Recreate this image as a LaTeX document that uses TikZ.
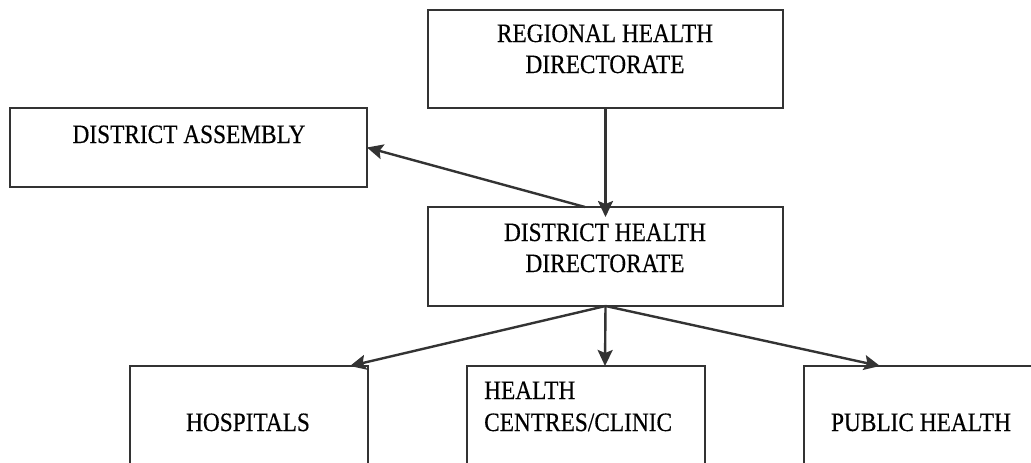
\documentclass[tikz,border=0pt]{standalone}
\usepackage{fontspec}
\setmainfont{Liberation Serif}[FakeStretch=0.88,FakeBold=0.35]
\usetikzlibrary{arrows.meta}
\definecolor{ln}{HTML}{333333}
\tikzset{
  x=1pt, y=-1pt,
  box/.style={draw=ln, line width=1.2pt, anchor=north west, inner sep=0pt, outer sep=0pt},
  lbl/.style={anchor=base, inner sep=0pt, font=\fontsize{26.5}{26.5}\selectfont, text=black},
  lbll/.style={anchor=base west, inner sep=0pt, font=\fontsize{26.5}{26.5}\selectfont, text=black},
  conn/.style={draw=ln, line width=2.4pt, -{Stealth[length=16pt,width=15pt,inset=3pt]}}
}
\begin{document}
\begin{tikzpicture}
\useasboundingbox (0,0) rectangle (1031,463);
\clip (0,0) rectangle (1031,463);
% boxes
\node[box, minimum width=355pt, minimum height=98pt] (reg) at (428,10) {};
\node[box, minimum width=357pt, minimum height=79pt] (da) at (10,108) {};
\node[box, minimum width=355pt, minimum height=99pt] (dhd) at (428,207) {};
\node[box, minimum width=238pt, minimum height=110pt] (hosp) at (130,366) {};
\node[box, minimum width=238pt, minimum height=110pt] (hc) at (467,366) {};
\node[box, minimum width=240pt, minimum height=110pt] (pub) at (804,366) {};
% labels
\node[lbl] (regt1) at (605,42) {REGIONAL HEALTH};
\node[lbl] (regt2) at (605,73) {DIRECTORATE};
\node[lbl] (dat) at (189,143) {DISTRICT ASSEMBLY};
\node[lbl] (dhdt1) at (605,241) {DISTRICT HEALTH};
\node[lbl] (dhdt2) at (605,272) {DIRECTORATE};
\node[lbl] (hospt) at (248,431) {HOSPITALS};
\node[lbll] (hct1) at (484,399) {HEALTH};
\node[lbll] (hct2) at (484,431) {CENTRES/CLINIC};
\node[lbl] (pubt) at (921,431) {PUBLIC HEALTH};
% connector end points
\coordinate (asrc) at (585,207);
\coordinate (hosptip) at (350,366);
\coordinate (hctip) at (605,366);
\coordinate (pubtip) at (880,366);
% connectors
\draw[conn, shorten >=-10pt] (reg.south) -- (dhd.north);
\draw[conn] (asrc) -- (da.east);
\draw[conn] (dhd.south) -- (hosptip);
\draw[conn] (dhd.south) -- (hctip);
\draw[conn] (dhd.south) -- (pubtip);
\end{tikzpicture}
\end{document}
